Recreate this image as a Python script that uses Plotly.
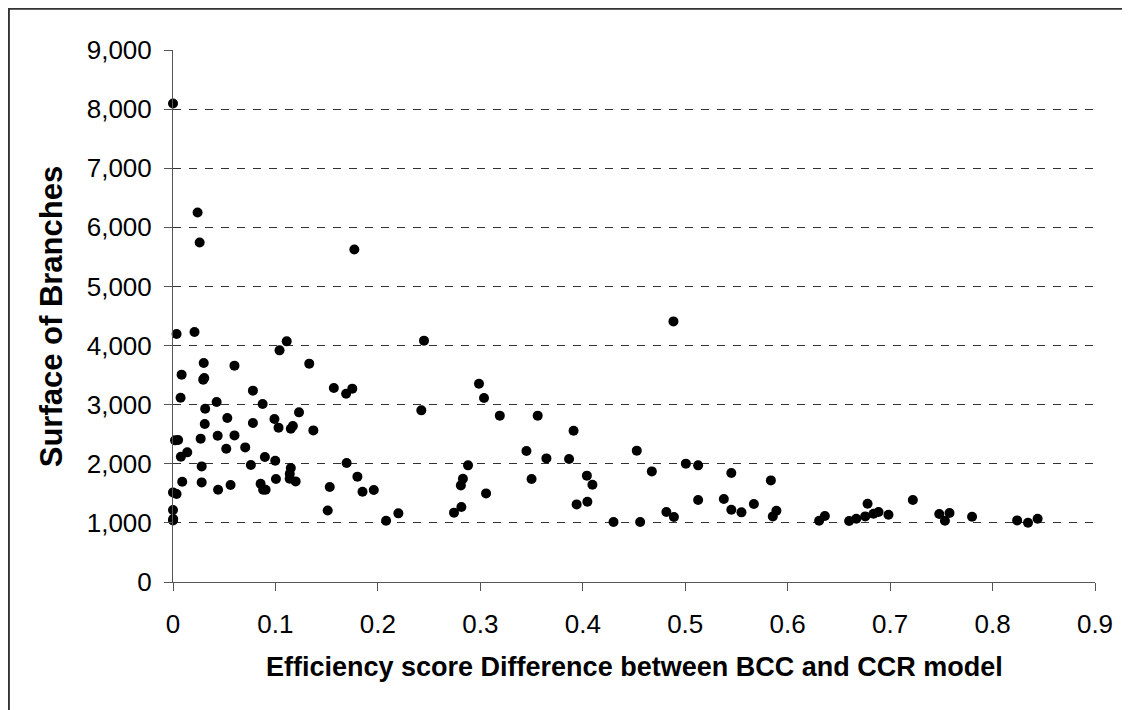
import plotly.graph_objects as go

# efficiency score difference (BCC - CCR) vs branch surface
eff_diff = [
    0.000, 0.024, 0.026, 0.177, 0.0035, 0.021, 0.111, 0.104, 0.030, 0.060,
    0.133, 0.0084, 0.0295, 0.0305, 0.078, 0.157, 0.169, 0.175, 0.0074, 0.0426,
    0.0875, 0.0314, 0.123, 0.053, 0.099, 0.078, 0.031, 0.103, 0.115, 0.117,
    0.137, 0.002, 0.005, 0.027, 0.0436, 0.060, 0.052, 0.0705, 0.0077, 0.0139,
    0.0897, 0.0998, 0.028, 0.076, 0.115, 0.114, 0.1139, 0.1197, 0.1695, 0.180,
    0.009, 0.028, 0.1005, 0.0855, 0.088, 0.0904, 0.0562, 0.044, 0.000, 0.0035,
    0.153, 0.185, 0.000, 0.151, 0.000, 0.0002, 0.245, 0.2424, 0.2987, 0.3036,
    0.319, 0.356, 0.391, 0.345, 0.3645, 0.3866, 0.288, 0.283, 0.281, 0.196,
    0.3056, 0.350, 0.404, 0.4094, 0.394, 0.4045, 0.2815, 0.2743, 0.220, 0.208,
    0.4527, 0.5006, 0.5126, 0.4674, 0.545, 0.5836, 0.430, 0.456, 0.4816, 0.489,
    0.5126, 0.5377, 0.545, 0.5549, 0.567, 0.5855, 0.589, 0.6307, 0.6363, 0.660,
    0.667, 0.6757, 0.678, 0.6838, 0.6887, 0.6984, 0.7222, 0.748, 0.7535, 0.758,
    0.780, 0.824, 0.8346, 0.844, 0.4885,
]
surface = [
    8096, 6250, 5742, 5624, 4196, 4230, 4071, 3919, 3705, 3660,
    3694, 3508, 3423, 3452, 3237, 3282, 3186, 3271, 3118, 3046,
    3012, 2932, 2870, 2775, 2758, 2690, 2673, 2611, 2594, 2640,
    2565, 2396, 2403, 2425, 2475, 2480, 2255, 2277, 2120, 2193,
    2115, 2052, 1956, 1980, 1929, 1832, 1748, 1702, 2013, 1782,
    1697, 1685, 1743, 1663, 1562, 1562, 1641, 1562, 1516, 1489,
    1607, 1528, 1218, 1211, 1042, 1066, 4083, 2904, 3355, 3113,
    2814, 2814, 2560, 2216, 2091, 2081, 1973, 1748, 1634, 1557,
    1499, 1743, 1799, 1646, 1313, 1359, 1269, 1173, 1161, 1037,
    2222, 2002, 1973, 1871, 1844, 1719, 1015, 1015, 1184, 1100,
    1387, 1404, 1223, 1178, 1320, 1110, 1206, 1037, 1117, 1032,
    1071, 1110, 1325, 1156, 1184, 1139, 1387, 1150, 1037, 1167,
    1105, 1042, 1003, 1071, 4409,
]

x_title = "Efficiency score Difference between BCC and CCR model"
y_title = "Surface of Branches"
font_family = "Liberation Sans, Arial, sans-serif"

fig = go.Figure()
fig.add_trace(go.Scatter(
    x=eff_diff, y=surface, mode="markers", cliponaxis=False,
    marker=dict(color="black", size=10, line=dict(width=0)),
    showlegend=False,
))

# page body adds 8px, margins are compensated for it
fig.update_layout(
    width=1130, height=710,
    margin=dict(l=165, r=43, t=42, b=136),
    paper_bgcolor="white", plot_bgcolor="white",
    font=dict(family=font_family, color="black", size=26),
)
fig.update_xaxes(
    range=[0, 0.9], dtick=0.1, tick0=0,
    showgrid=False, zeroline=False,
    showline=True, linecolor="#555", linewidth=1,
    ticks="outside", ticklen=8, tickcolor="#555",
    ticklabelstandoff=11,
    tickfont=dict(size=26),
)
fig.update_yaxes(
    range=[0, 9000], dtick=1000, tick0=0, tickformat=",d",
    showgrid=True, gridcolor="#333", gridwidth=1, griddash="8px,8px",
    zeroline=False,
    showline=True, linecolor="#555", linewidth=1,
    ticks="outside", ticklen=8, tickcolor="#555",
    ticklabelstandoff=7,
    tickfont=dict(size=26),
)

# axis titles placed as annotations
fig.add_annotation(
    text=x_title, xref="paper", yref="paper", x=0.5, y=-0.159,
    xanchor="center", yanchor="middle", showarrow=False,
    font=dict(size=27, family=font_family, color="black", weight="bold"),
)
fig.add_annotation(
    text=y_title, xref="paper", yref="paper", x=-0.132, y=0.5,
    xanchor="center", yanchor="middle", showarrow=False, textangle=-90,
    font=dict(size=31, family=font_family, color="black", weight="bold"),
)

# outer chart frame
fig.add_shape(
    type="rect", xref="paper", yref="paper",
    x0=-0.178, x1=1.1, y0=-0.4, y1=1.0776,
    line=dict(color="#333", width=2), layer="below",
)

fig.write_html("out.html")
